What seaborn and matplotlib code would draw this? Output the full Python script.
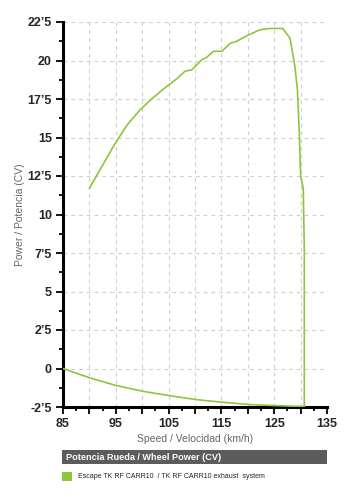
import numpy as np
import matplotlib
matplotlib.use("Agg")
import matplotlib.pyplot as plt
import matplotlib.ticker as mticker
from matplotlib.patches import Rectangle
import seaborn as sns
import pandas as pd

# power curve (upper branch) then losses curve back to 85 km/h
speed_up = [90.0, 92.0, 94.5, 97.1, 99.6, 102.1, 104.6, 106.5, 108.1, 109.4,
            111.3, 112.2, 113.5, 115.1, 116.6, 117.9, 119.8, 122.3, 124.2,
            126.6, 128.0, 128.9, 129.4, 129.75, 130.0, 130.5, 130.7, 130.7]
power_up = [11.7, 12.9, 14.4, 15.8, 16.8, 17.6, 18.3, 18.8, 19.3, 19.4,
            20.05, 20.2, 20.6, 20.6, 21.1, 21.25, 21.6, 22.0, 22.08,
            22.08, 21.45, 19.65, 18.1, 15.3, 12.5, 11.7, 7.7, -2.47]
speed_loss = [130.7, 125.3, 120.3, 115.2, 110.2, 105.1, 100.1, 95.0, 90.0, 85.0]
power_loss = [-2.47, -2.41, -2.34, -2.19, -2.02, -1.76, -1.48, -1.1, -0.6, 0.0]

ytick_vals = [-2.5, 0, 2.5, 5, 7.5, 10, 12.5, 15, 17.5, 20, 22.5]
ytick_labels = ["-2\u20195", "0", "2\u20195", "5", "7\u20195", "10", "12\u20195",
                "15", "17\u20195", "20", "22\u20195"]
xtick_vals = [85, 90, 95, 100, 105, 110, 115, 120, 125, 130, 135]
xtick_labels = ["85", "", "95", "", "105", "", "115", "", "125", "", "135"]

green = "#8cc63e"

df = pd.DataFrame({"speed": speed_up + speed_loss,
                   "power": power_up + power_loss})

sns.set_style("white")
plt.rcParams['font.family'] = ['Liberation Sans', 'DejaVu Sans']

fig = plt.figure(figsize=(3.52, 5.0), dpi=100)
ax = fig.add_axes([0.179, 0.186, 0.75, 0.770])

sns.lineplot(data=df, x="speed", y="power", sort=False, estimator=None,
             color=green, lw=1.2, ax=ax, zorder=3)

ax.set_xlim(85, 135)
ax.set_ylim(-2.5, 22.5)

ax.set_xticks(xtick_vals)
ax.set_xticklabels(xtick_labels, fontsize=9, fontweight='bold')
ax.xaxis.set_minor_locator(mticker.MultipleLocator(2.5))
ax.set_yticks(ytick_vals)
ax.set_yticklabels(ytick_labels, fontsize=9, fontweight='bold')
ax.yaxis.set_minor_locator(mticker.MultipleLocator(1.25))

ax.tick_params(axis='both', which='major', length=5, width=1.3, color='black',
               direction='out', pad=3, bottom=True, left=True)
ax.tick_params(axis='both', which='minor', length=3, width=1.3, color='black',
               direction='out', bottom=True, left=True)

for x in xtick_vals[1:-1]:
    ax.axvline(x, color='#cfcfcf', lw=0.8, ls=(0, (3.5, 3.5)), zorder=1)
for y in ytick_vals[1:]:
    ax.axhline(y, color='#cfcfcf', lw=0.8, ls=(0, (3.5, 3.5)), zorder=1)

sns.despine(ax=ax)
ax.spines['left'].set_linewidth(2.2)
ax.spines['bottom'].set_linewidth(2.2)
ax.spines['left'].set_color('black')
ax.spines['bottom'].set_color('black')

ax.set_xlabel("Speed / Velocidad (km/h)", fontsize=7.5, color='#666666', labelpad=3)
ax.set_ylabel("Power / Potencia (CV)", fontsize=7.5, color='#666666', labelpad=2)

# legend block
fig.patches.append(Rectangle((62 / 352, 1 - 464 / 500), 265 / 352, 14 / 500,
                             transform=fig.transFigure, facecolor='#5c5c5c',
                             edgecolor='none'))
fig.text(66 / 352, 1 - 457 / 500, "Potencia Rueda / Wheel Power (CV)",
         color='white', fontsize=6.6, fontweight='bold', va='center')
fig.patches.append(Rectangle((62 / 352, 1 - 481 / 500), 10 / 352, 9 / 500,
                             transform=fig.transFigure, facecolor=green,
                             edgecolor='none'))
fig.text(78 / 352, 1 - 477 / 500,
         "Escape TK RF CARR10  / TK RF CARR10 exhaust  system",
         color='#222222', fontsize=5, va='center')

fig.savefig("out.png", dpi=100)
